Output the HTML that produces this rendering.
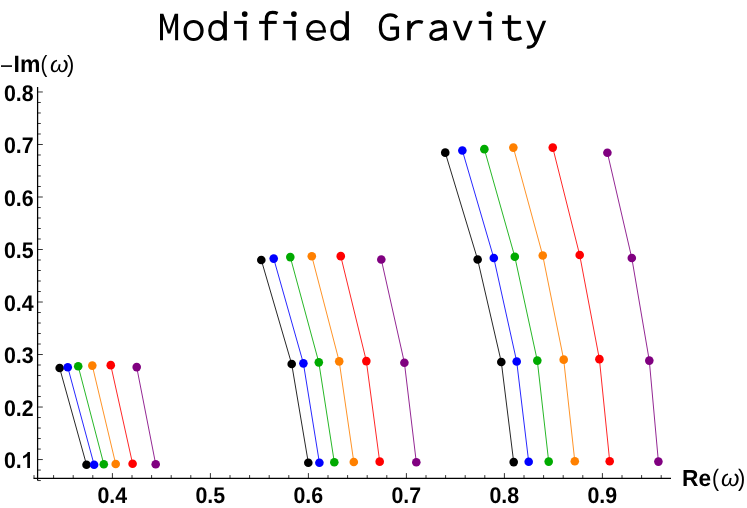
<!DOCTYPE html>
<html><head><meta charset="utf-8"><title>Modified Gravity</title>
<style>
html,body{margin:0;padding:0;background:#fff;}
body{width:747px;height:508px;overflow:hidden;position:relative;font-family:"Liberation Sans",sans-serif;}
svg{position:absolute;left:0;top:0;display:block;}
#labels{filter:grayscale(1);}
#labels text{fill:#000;text-rendering:geometricPrecision;}
.tk{font-family:"Liberation Sans",sans-serif;font-weight:bold;font-size:21.4px;}
</style></head><body>
<svg id="plot" width="747" height="508" viewBox="0 0 747 508">
<rect width="747" height="508" fill="#fff"/>
<defs><clipPath id="cv"><rect x="450" y="20.87" width="26" height="19.48"/></clipPath><clipPath id="cy"><rect x="520" y="20.87" width="30" height="30"/></clipPath></defs>
<g id="title" fill="#000">
<path d="M160 40.35V13.74H163.35L169.05 30.1L174.75 13.74H178.1V40.35H175.1V19.6L170.35 33.6H167.75L163 19.6V40.35Z"/>
<path fill-rule="evenodd" d="M183.55 30.5C183.55 24.23 187.57 20.05 193.6 20.05C199.63 20.05 203.65 24.23 203.65 30.5C203.65 36.77 199.63 40.95 193.6 40.95C187.57 40.95 183.55 36.77 183.55 30.5ZM186.85 30.5C186.85 25.79 189.41 22.9 193.6 22.9C197.78 22.9 200.35 25.79 200.35 30.5C200.35 35.21 197.78 38.1 193.6 38.1C189.41 38.1 186.85 35.21 186.85 30.5Z"/>
<path d="M223.57 11.2H226.87V40.35H223.57Z"/><path d="M209.72 30.5C209.72 25.16 212.72 21.6 217.22 21.6C221.72 21.6 224.72 25.16 224.72 30.5C224.72 35.84 221.72 39.4 217.22 39.4C212.72 39.4 209.72 35.84 209.72 30.5Z" fill="none" stroke="#000" stroke-width="3.1" />
<path d="M243.08 20.87H246.58V40.35H243.08Z"/><path d="M234.13 20.87H246.58V23.9H234.13Z"/><circle cx="244.73" cy="14.04" r="2.85"/>
<path d="M266.4 40.35V19.5C266.4 14.2 268.8 12.4 272.6 12.4C274.4 12.4 276.2 12.8 277.6 13.5" fill="none" stroke="#000" stroke-width="3.4" /><path d="M259.1 20.87H276.7V23.9H259.1Z"/>
<path d="M292.25 20.87H295.75V40.35H292.25Z"/><path d="M283.3 20.87H295.75V23.9H283.3Z"/><circle cx="293.9" cy="14.04" r="2.85"/>
<path d="M324.1 37.1C322 38.6 319.3 39.4 316.6 39.4C311.2 39.4 307.55 35.6 307.55 30.5C307.55 25.4 311 21.6 316 21.6C321 21.6 324.4 25.2 324.4 31.4" fill="none" stroke="#000" stroke-width="3.0" /><path d="M307.6 30.25H325.9V32.65H307.6Z"/>
<path d="M345.62 11.2H348.92V40.35H345.62Z"/><path d="M331.77 30.5C331.77 25.16 334.77 21.6 339.27 21.6C343.77 21.6 346.77 25.16 346.77 30.5C346.77 35.84 343.77 39.4 339.27 39.4C334.77 39.4 331.77 35.84 331.77 30.5Z" fill="none" stroke="#000" stroke-width="3.1" />
<path d="M396.9 17.6C395 15.6 392.8 14.8 390.2 14.8C384.2 14.8 380.4 19.6 380.4 27.1C380.4 34.6 384.2 39.4 390.3 39.4C393.3 39.4 395.8 38.4 397.45 36.9V28.1H390.1" fill="none" stroke="#000" stroke-width="3.2" />
<path d="M407.2 20.87H410.8V40.35H407.2Z"/><path d="M410 28.5C411 24.5 414.5 21.65 418.6 21.65C420.2 21.65 421.6 21.95 422.8 22.5" fill="none" stroke="#000" stroke-width="3.1" />
<path d="M431.6 24.3C433.5 22.6 436 21.6 438.8 21.6C443.2 21.6 445.3 24 445.3 28.2V40.35" fill="none" stroke="#000" stroke-width="3.3" /><path d="M445.3 29C441 29.3 437.3 29.8 434.8 30.7C431.9 31.8 430.75 33.3 430.75 35.5C430.8 38 432.6 39.4 435.6 39.4C439.2 39.4 442.4 37.6 445.3 34.6" fill="none" stroke="#000" stroke-width="3.0" />
<g clip-path="url(#cv)"><path d="M453.41 18L463.36 43" fill="none" stroke="#000" stroke-width="3.25" /><path d="M471.96 18L462.29 43" fill="none" stroke="#000" stroke-width="3.25" /></g>
<path d="M487.68 20.87H491.18V40.35H487.68Z"/><path d="M478.73 20.87H491.18V23.9H478.73Z"/><circle cx="489.33" cy="14.04" r="2.85"/>
<path d="M509.5 15.24V34.5C509.5 38 511.6 39.4 514.8 39.4C517.3 39.4 519.6 38.8 521.6 37.8" fill="none" stroke="#000" stroke-width="3.4" /><path d="M502.1 20.87H520.85V23.9H502.1Z"/>
<g clip-path="url(#cy)"><path d="M545.5 18L536.9 40C535.4 43.9 533.2 47.1 529.3 47.1C528.5 47.1 527.7 47 527 46.7" fill="none" stroke="#000" stroke-width="3.25" /><path d="M526.9 18L536 40.9" fill="none" stroke="#000" stroke-width="3.25" /></g>
</g>
<rect x="1.0" y="65.3" width="11.0" height="1.6" fill="#000"/>
<g stroke="#000" stroke-width="1.25" fill="none">
<line x1="33.5" y1="478.3" x2="671" y2="478.3" stroke-width="1.35"/>
<line x1="37.6" y1="87" x2="37.6" y2="480.6"/>
<path stroke-width="0.8" d="M34.00 478.3v-3.2M53.60 478.3v-3.2M73.20 478.3v-3.2M92.80 478.3v-3.2M112.40 478.3v-5.2M132.00 478.3v-3.2M151.60 478.3v-3.2M171.20 478.3v-3.2M190.80 478.3v-3.2M210.40 478.3v-5.2M230.00 478.3v-3.2M249.60 478.3v-3.2M269.20 478.3v-3.2M288.80 478.3v-3.2M308.40 478.3v-5.2M328.00 478.3v-3.2M347.60 478.3v-3.2M367.20 478.3v-3.2M386.80 478.3v-3.2M406.40 478.3v-5.2M426.00 478.3v-3.2M445.60 478.3v-3.2M465.20 478.3v-3.2M484.80 478.3v-3.2M504.40 478.3v-5.2M524.00 478.3v-3.2M543.60 478.3v-3.2M563.20 478.3v-3.2M582.80 478.3v-3.2M602.40 478.3v-5.2M622.00 478.3v-3.2M641.60 478.3v-3.2M661.20 478.3v-3.2M37.6 480.55h3.2M37.6 470.05h3.2M37.6 459.55h5.2M37.6 449.05h3.2M37.6 438.55h3.2M37.6 428.04h3.2M37.6 417.54h3.2M37.6 407.04h5.2M37.6 396.54h3.2M37.6 386.04h3.2M37.6 375.53h3.2M37.6 365.03h3.2M37.6 354.53h5.2M37.6 344.03h3.2M37.6 333.53h3.2M37.6 323.02h3.2M37.6 312.52h3.2M37.6 302.02h5.2M37.6 291.52h3.2M37.6 281.02h3.2M37.6 270.51h3.2M37.6 260.01h3.2M37.6 249.51h5.2M37.6 239.01h3.2M37.6 228.51h3.2M37.6 218.00h3.2M37.6 207.50h3.2M37.6 197.00h5.2M37.6 186.50h3.2M37.6 176.00h3.2M37.6 165.49h3.2M37.6 154.99h3.2M37.6 144.49h5.2M37.6 133.99h3.2M37.6 123.49h3.2M37.6 112.98h3.2M37.6 102.48h3.2M37.6 91.98h5.2"/>
</g>
<g stroke="#000000" stroke-width="0.85" fill="none"><polyline points="59.65,368.05 86.5,464.7"/><polyline points="261.3,260.0 291.7,364.05 308.3,462.7"/><polyline points="445.25,152.65 477.65,259.55 501.3,362.05 513.7,462.1"/></g>
<g stroke="#0000ff" stroke-width="0.85" fill="none"><polyline points="67.75,367.2 94.1,464.7"/><polyline points="273.7,258.6 303.4,363.35 319.4,462.7"/><polyline points="462.35,150.45 493.8,258.05 516.7,361.5 528.7,461.8"/></g>
<g stroke="#00aa00" stroke-width="0.85" fill="none"><polyline points="78.2,366.2 103.8,464.2"/><polyline points="290.3,257.1 318.8,362.35 334.3,462.2"/><polyline points="484.35,149.15 514.8,256.75 537.3,360.6 548.7,461.6"/></g>
<g stroke="#ff8000" stroke-width="0.85" fill="none"><polyline points="92.3,365.6 115.7,464.0"/><polyline points="311.8,256.2 339.2,361.35 353.8,462.0"/><polyline points="513.35,147.6 542.75,255.55 563.7,359.65 574.8,461.2"/></g>
<g stroke="#ff0000" stroke-width="0.85" fill="none"><polyline points="110.75,365.15 132.6,463.7"/><polyline points="340.75,256.15 366.35,361.1 379.7,461.65"/><polyline points="552.75,147.6 579.7,255.05 599.4,359.15 609.7,461.2"/></g>
<g stroke="#800080" stroke-width="0.85" fill="none"><polyline points="136.7,367.1 155.7,464.2"/><polyline points="381.3,259.55 404.4,362.7 416.3,462.2"/><polyline points="607.4,152.7 631.8,258.05 649.3,360.6 658.4,461.6"/></g>
<g fill="#000000"><circle cx="59.65" cy="368.05" r="4.3"/><circle cx="86.5" cy="464.7" r="4.3"/><circle cx="261.3" cy="260.0" r="4.3"/><circle cx="291.7" cy="364.05" r="4.3"/><circle cx="308.3" cy="462.7" r="4.3"/><circle cx="445.25" cy="152.65" r="4.3"/><circle cx="477.65" cy="259.55" r="4.3"/><circle cx="501.3" cy="362.05" r="4.3"/><circle cx="513.7" cy="462.1" r="4.3"/></g>
<g fill="#0000ff"><circle cx="67.75" cy="367.2" r="4.3"/><circle cx="94.1" cy="464.7" r="4.3"/><circle cx="273.7" cy="258.6" r="4.3"/><circle cx="303.4" cy="363.35" r="4.3"/><circle cx="319.4" cy="462.7" r="4.3"/><circle cx="462.35" cy="150.45" r="4.3"/><circle cx="493.8" cy="258.05" r="4.3"/><circle cx="516.7" cy="361.5" r="4.3"/><circle cx="528.7" cy="461.8" r="4.3"/></g>
<g fill="#00aa00"><circle cx="78.2" cy="366.2" r="4.3"/><circle cx="103.8" cy="464.2" r="4.3"/><circle cx="290.3" cy="257.1" r="4.3"/><circle cx="318.8" cy="362.35" r="4.3"/><circle cx="334.3" cy="462.2" r="4.3"/><circle cx="484.35" cy="149.15" r="4.3"/><circle cx="514.8" cy="256.75" r="4.3"/><circle cx="537.3" cy="360.6" r="4.3"/><circle cx="548.7" cy="461.6" r="4.3"/></g>
<g fill="#ff8000"><circle cx="92.3" cy="365.6" r="4.3"/><circle cx="115.7" cy="464.0" r="4.3"/><circle cx="311.8" cy="256.2" r="4.3"/><circle cx="339.2" cy="361.35" r="4.3"/><circle cx="353.8" cy="462.0" r="4.3"/><circle cx="513.35" cy="147.6" r="4.3"/><circle cx="542.75" cy="255.55" r="4.3"/><circle cx="563.7" cy="359.65" r="4.3"/><circle cx="574.8" cy="461.2" r="4.3"/></g>
<g fill="#ff0000"><circle cx="110.75" cy="365.15" r="4.3"/><circle cx="132.6" cy="463.7" r="4.3"/><circle cx="340.75" cy="256.15" r="4.3"/><circle cx="366.35" cy="361.1" r="4.3"/><circle cx="379.7" cy="461.65" r="4.3"/><circle cx="552.75" cy="147.6" r="4.3"/><circle cx="579.7" cy="255.05" r="4.3"/><circle cx="599.4" cy="359.15" r="4.3"/><circle cx="609.7" cy="461.2" r="4.3"/></g>
<g fill="#800080"><circle cx="136.7" cy="367.1" r="4.3"/><circle cx="155.7" cy="464.2" r="4.3"/><circle cx="381.3" cy="259.55" r="4.3"/><circle cx="404.4" cy="362.7" r="4.3"/><circle cx="416.3" cy="462.2" r="4.3"/><circle cx="607.4" cy="152.7" r="4.3"/><circle cx="631.8" cy="258.05" r="4.3"/><circle cx="649.3" cy="360.6" r="4.3"/><circle cx="658.4" cy="461.6" r="4.3"/></g>
</svg>
<svg id="labels" width="747" height="508" viewBox="0 0 747 508">
<text transform="matrix(1.0215 0 0 1.0484 13.57 71.75)" style="font-family:'Liberation Sans',sans-serif;font-size:22.5px;font-weight:bold">Im</text>
<text transform="matrix(0.9565 0 0 1.0975 40.40 71.96)" style="font-family:'Liberation Sans',sans-serif;font-size:21.5px">(</text>
<text transform="matrix(1.0562 0 0 1.0122 49.91 71.95)" style="font-family:'Liberation Sans',sans-serif;font-size:22.5px;font-style:italic">ω</text>
<text transform="matrix(1.0182 0 0 1.0975 66.95 71.96)" style="font-family:'Liberation Sans',sans-serif;font-size:21.5px">)</text>
<text transform="matrix(1.0113 0 0 1.0286 682.08 485.84)" style="font-family:'Liberation Sans',sans-serif;font-size:22.5px;font-weight:bold">Re</text>
<text transform="matrix(0.9826 0 0 1.1100 711.92 486.40)" style="font-family:'Liberation Sans',sans-serif;font-size:21.5px">(</text>
<text transform="matrix(1.0531 0 0 1.0327 720.96 485.99)" style="font-family:'Liberation Sans',sans-serif;font-size:22.5px;font-style:italic">ω</text>
<text transform="matrix(1.0182 0 0 1.1100 737.95 486.40)" style="font-family:'Liberation Sans',sans-serif;font-size:21.5px">)</text>
<text class="tk" transform="translate(112.3 503.0) scale(1 1.062)" text-anchor="middle">0.4</text>
<text class="tk" transform="translate(210.3 503.0) scale(1 1.062)" text-anchor="middle">0.5</text>
<text class="tk" transform="translate(308.3 503.0) scale(1 1.062)" text-anchor="middle">0.6</text>
<text class="tk" transform="translate(406.3 503.0) scale(1 1.062)" text-anchor="middle">0.7</text>
<text class="tk" transform="translate(504.3 503.0) scale(1 1.062)" text-anchor="middle">0.8</text>
<text class="tk" transform="translate(602.3 503.0) scale(1 1.062)" text-anchor="middle">0.9</text>
<text class="tk" transform="translate(21.80 468.1) scale(1 1.062)" text-anchor="end">0.</text>
<path fill="#000" d="M29.97 452.1 L27.75 452.1 C27.2 453.7 25.2 455.35 23.05 456.05 L23.05 458.55 C24.7 458.0 26.2 457.1 27.27 456.1 L27.27 467.9 L29.97 467.9 Z"/>
<text class="tk" transform="translate(33.7 415.5) scale(1 1.062)" text-anchor="end">0.2</text>
<text class="tk" transform="translate(33.7 363.0) scale(1 1.062)" text-anchor="end">0.3</text>
<text class="tk" transform="translate(33.7 310.5) scale(1 1.062)" text-anchor="end">0.4</text>
<text class="tk" transform="translate(33.7 258.0) scale(1 1.062)" text-anchor="end">0.5</text>
<text class="tk" transform="translate(33.7 205.5) scale(1 1.062)" text-anchor="end">0.6</text>
<text class="tk" transform="translate(33.7 153.0) scale(1 1.062)" text-anchor="end">0.7</text>
<text class="tk" transform="translate(33.7 100.5) scale(1 1.062)" text-anchor="end">0.8</text>
</svg>
</body></html>
